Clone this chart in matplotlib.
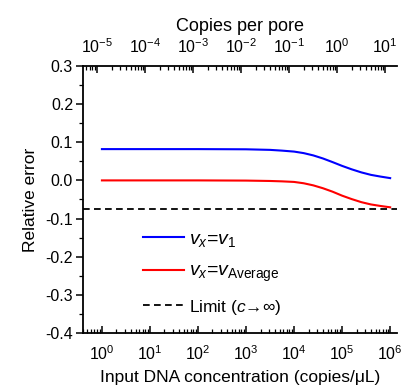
import numpy as np
import matplotlib
matplotlib.use("Agg")
import matplotlib.pyplot as plt
from matplotlib.ticker import LogLocator, MultipleLocator, FixedFormatter, FuncFormatter

plt.rcParams['font.family'] = ['Liberation Sans', 'DejaVu Sans']
plt.rcParams['mathtext.fontset'] = 'custom'
plt.rcParams['mathtext.rm'] = 'Liberation Sans'
plt.rcParams['mathtext.it'] = 'Liberation Sans:italic'
plt.rcParams['axes.unicode_minus'] = False

# ---- data ----
log_conc = np.array([0, 1, 2, 3, 3.5, 3.75, 4.0, 4.2, 4.4, 4.6, 4.8,
                     5.0, 5.2, 5.4, 5.6, 5.8, 6.0])
err_v1 = [0.082, 0.082, 0.082, 0.0815, 0.080, 0.078, 0.0755, 0.0715, 0.0655,
          0.0575, 0.048, 0.038, 0.029, 0.021, 0.0145, 0.010, 0.006]
err_avg = [0.0, 0.0, 0.0, -0.0005, -0.0015, -0.0025, -0.004, -0.0075, -0.013,
           -0.0205, -0.0295, -0.040, -0.049, -0.057, -0.063, -0.067, -0.0705]
limit = -0.0745
copies_per_pore_factor = 10 ** -4.9

bottom_exps = list(range(0, 7))
top_exps = list(range(-5, 2))

conc = 10.0 ** log_conc

fig = plt.figure(figsize=(4.02, 3.90), dpi=100)
ax = fig.add_axes([0.206, 0.146, 0.782, 0.685])

ax.plot(conc, err_v1, color='#0000ff', lw=1.5, label=r'$v_x$=$v_1$')
ax.plot(conc, err_avg, color='#ff0000', lw=1.5, label=r'$v_x$=$v_{\mathrm{Average}}$')
ax.axhline(limit, color='black', lw=1.3, ls=(0, (3.7, 2.4)),
           label='Limit ($c$\u2192\u221e)')

ax.set_xscale('log')
xmin, xmax = 0.40, 1.4e6
ax.set_xlim(xmin, xmax)
ax.set_ylim(-0.4, 0.3)
ax.set_xticks([10.0 ** k for k in bottom_exps])
ax.set_xticklabels([r'10$^{%d}$' % k for k in bottom_exps])
ax.xaxis.set_minor_locator(LogLocator(base=10, subs=np.arange(2, 10), numticks=20))
ax.xaxis.set_minor_formatter(FixedFormatter([]))
ax.yaxis.set_major_locator(MultipleLocator(0.1))
ax.yaxis.set_minor_locator(MultipleLocator(0.05))
ax.yaxis.set_major_formatter(FuncFormatter(lambda v, p: '%.1f' % v))

for s in ['top', 'right']:
    ax.spines[s].set_visible(False)
ax.spines['left'].set_linewidth(1.3)
ax.spines['bottom'].set_linewidth(1.3)

ax.tick_params(axis='x', which='both', direction='in', top=False, labelsize=11.5, pad=8)
ax.tick_params(axis='x', which='major', length=5, width=1.1)
ax.tick_params(axis='x', which='minor', length=3, width=0.9)
ax.tick_params(axis='y', which='both', direction='out', right=False, labelsize=11.5, pad=2)
ax.tick_params(axis='y', which='major', length=5, width=1.1)
ax.tick_params(axis='y', which='minor', length=3, width=0.9)

ax.set_xlabel('Input DNA concentration (copies/\u03bcL)', fontsize=12.5, labelpad=5)
ax.set_ylabel('Relative error', fontsize=12.5, labelpad=5)

# top axis: copies per pore
ax2 = ax.twiny()
ax2.set_xscale('log')
ax2.set_xlim(xmin * copies_per_pore_factor, xmax * copies_per_pore_factor)
ax2.set_xticks([10.0 ** k for k in top_exps])
ax2.set_xticklabels([r'10$^{%d}$' % k for k in top_exps])
ax2.xaxis.set_minor_locator(LogLocator(base=10, subs=np.arange(2, 10), numticks=20))
ax2.xaxis.set_minor_formatter(FixedFormatter([]))
for s in ['bottom', 'right', 'left']:
    ax2.spines[s].set_visible(False)
ax2.spines['top'].set_linewidth(1.3)
ax2.tick_params(axis='x', which='both', direction='in', labelsize=11.5, pad=7)
ax2.tick_params(axis='x', which='major', length=5, width=1.1)
ax2.tick_params(axis='x', which='minor', length=3, width=0.9)
ax2.set_xlabel('Copies per pore', fontsize=13, labelpad=5)

leg = ax.legend(loc='upper left', bbox_to_anchor=(0.16, 0.42), frameon=False, fontsize=14,
                handlelength=2.1, handletextpad=0.3, labelspacing=0.7, borderpad=0)
leg.get_texts()[2].set_fontsize(12.5)

fig.savefig('out.png', dpi=100)
